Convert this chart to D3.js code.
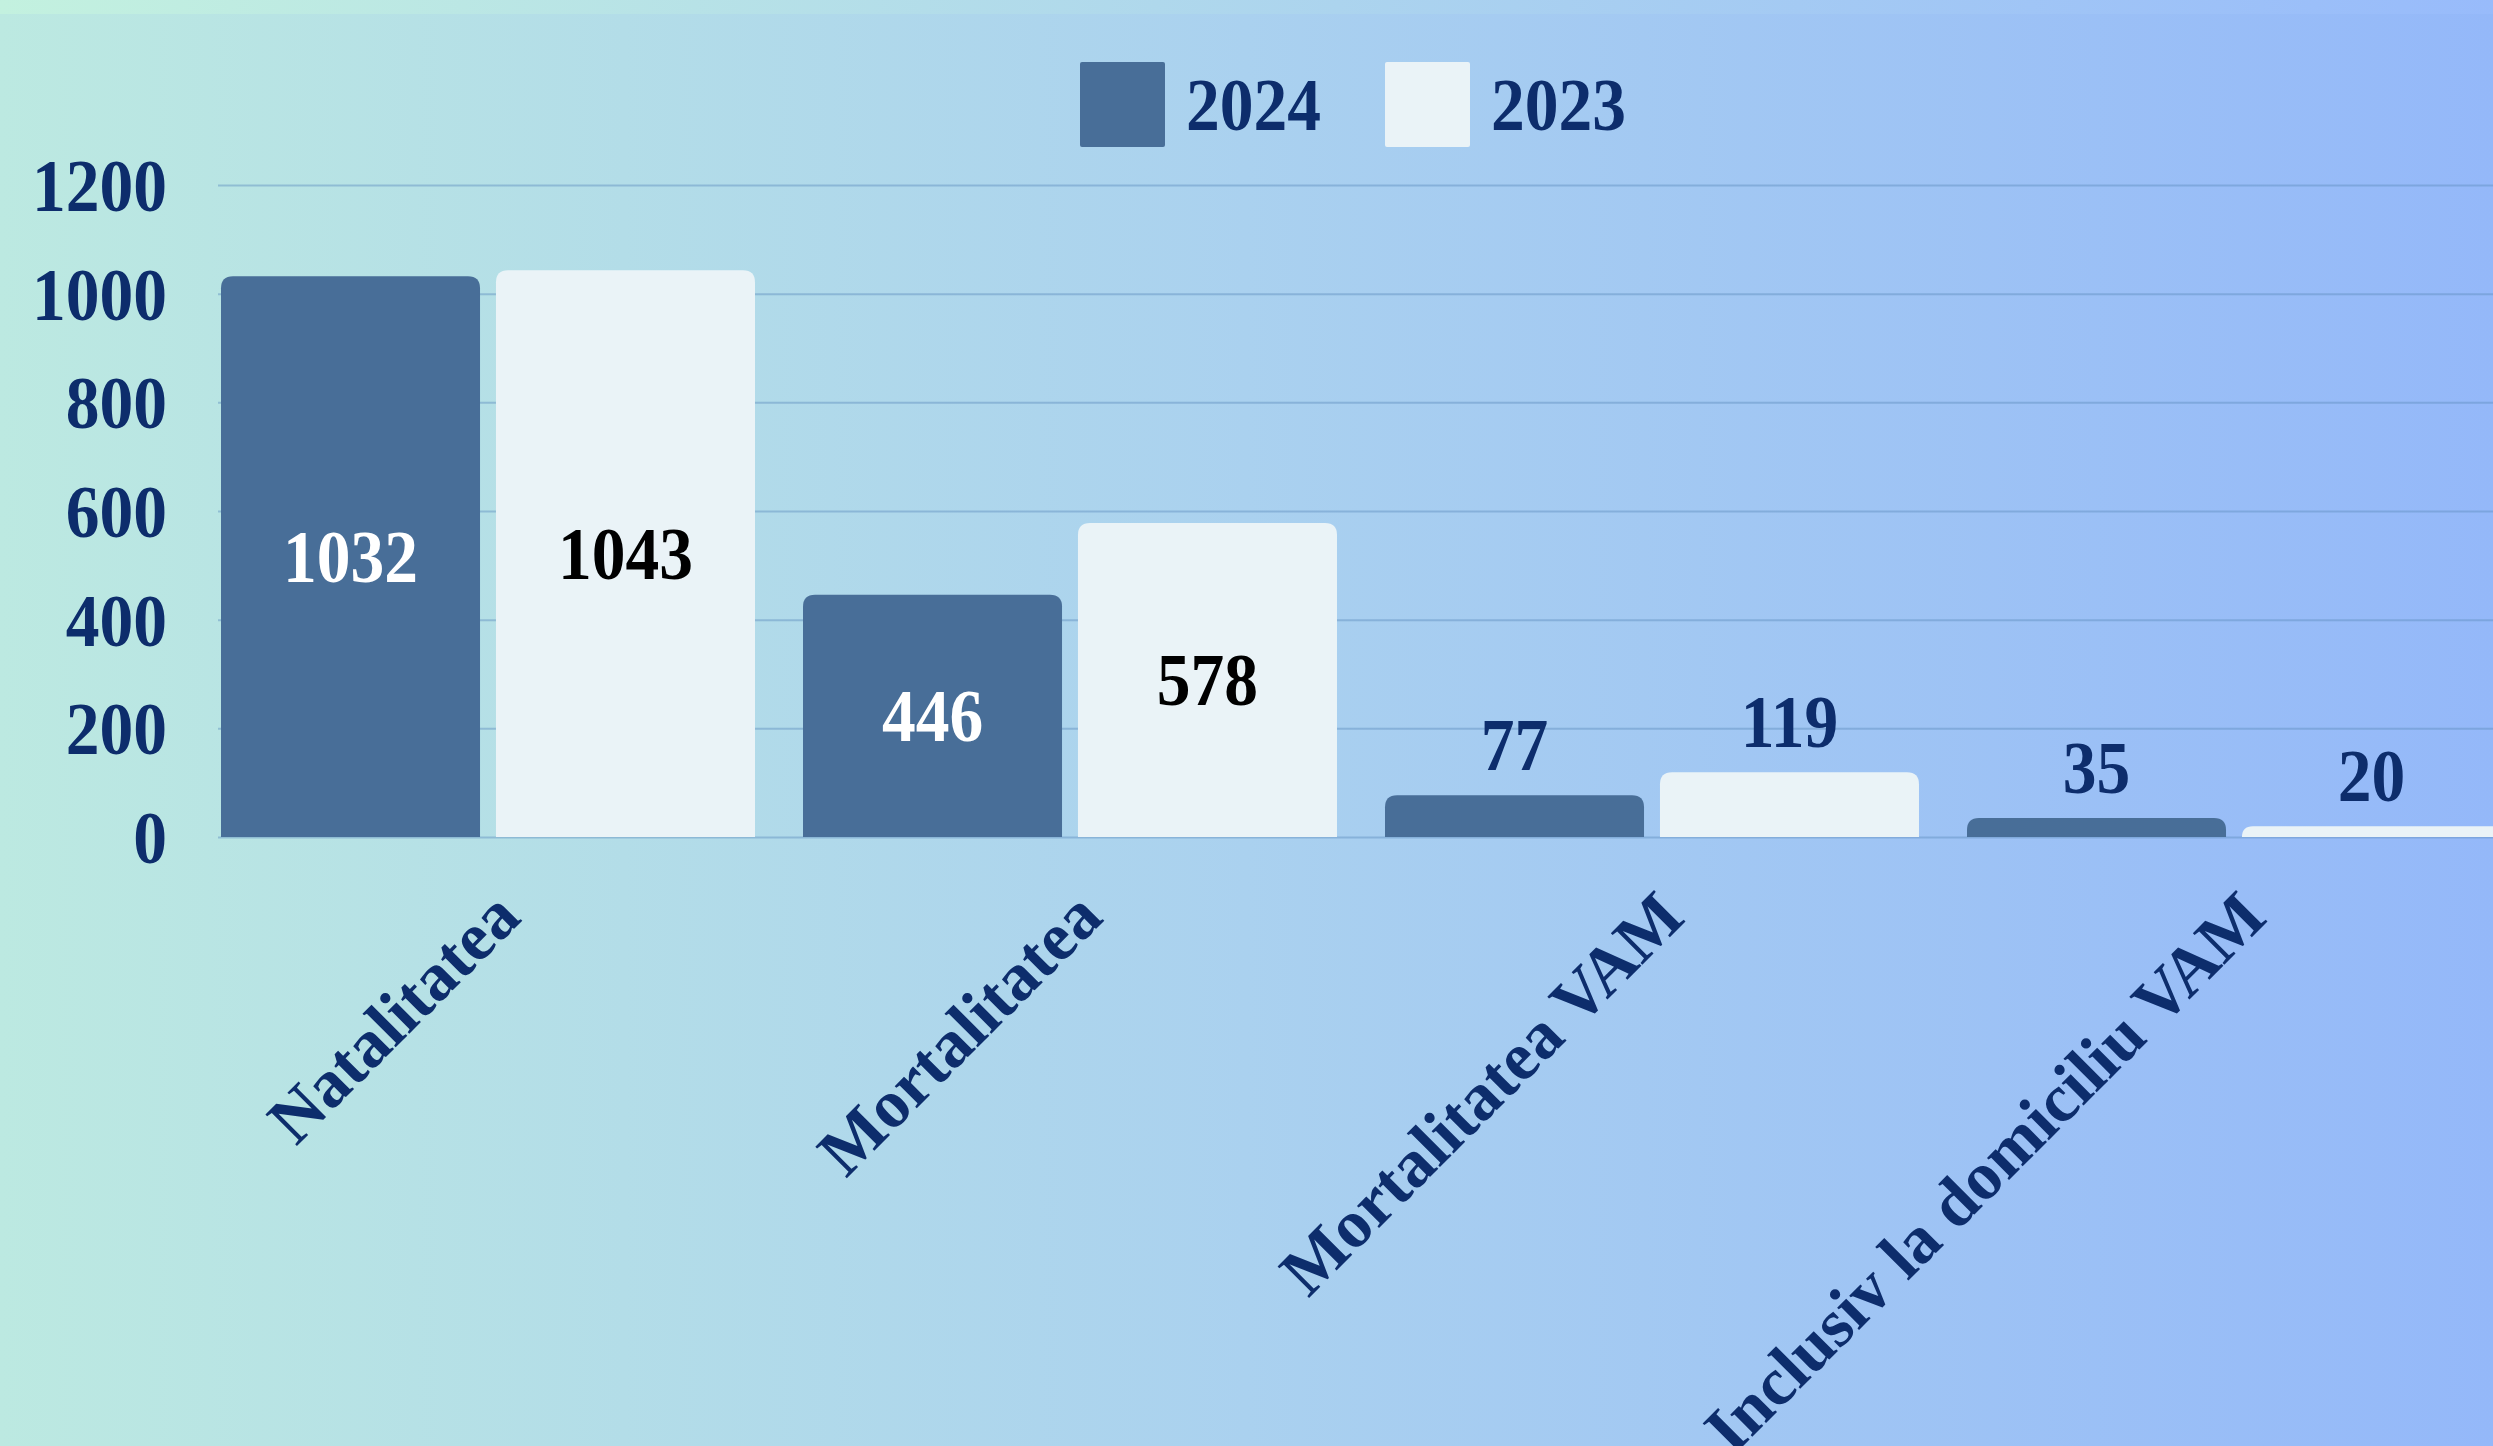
<!DOCTYPE html>
<html>
<head>
<meta charset="utf-8">
<script src="https://cdn.jsdelivr.net/npm/d3@7"></script>
<style>
	body { margin: 0; overflow: hidden; }
	text { font-family: "Liberation Serif", "Times New Roman", serif; font-weight: bold; }
</style>
</head>
<body>
<div id="chart"></div>
<script>

// data
var categories = ["Natalitatea", "Mortalitatea", "Mortalitatea VAM", "Inclusiv la domiciliu VAM"];
var years = ["2024", "2023"];
var values2024 = [1032, 446, 77, 35];
var values2023 = [1043, 578, 119, 20];
var yTicks = [0, 200, 400, 600, 800, 1000, 1200];

var chart = {
	container: '#chart',
	width: 2493,
	height: 1446,
	baseline: 837,
	top: 185,
	gridLeft: 218,
	navy: '#0d2d6c',
	colors: { '2024': '#486e98', '2023': '#eaf3f7' }
};

var rows = [];
categories.forEach(function (c, i) {
	rows.push({ cat: c, year: '2024', value: values2024[i] });
	rows.push({ cat: c, year: '2023', value: values2023[i] });
});

var svg = d3.select(chart.container)
	.append('svg')
	.attr('width', chart.width)
	.attr('height', chart.height);

// background gradient
var defs = svg.append('defs');
var bg = defs.append('linearGradient').attr('id', 'bg').attr('x1', 0).attr('x2', 1).attr('y1', 0).attr('y2', 0);
bg.append('stop').attr('offset', '0%').attr('stop-color', '#bce9e1');
bg.append('stop').attr('offset', '50%').attr('stop-color', '#aad1ef');
bg.append('stop').attr('offset', '100%').attr('stop-color', '#94b8f9');
var strip = defs.append('linearGradient').attr('id', 'strip').attr('x1', 0).attr('x2', 1).attr('y1', 0).attr('y2', 0);
strip.append('stop').attr('offset', '0%').attr('stop-color', '#c3f1df');
strip.append('stop').attr('offset', '100%').attr('stop-color', '#98bbfb');

svg.append('rect')
	.attr('width', chart.width)
	.attr('height', chart.height)
	.attr('fill', 'url(#bg)');

svg.append('rect')
	.attr('width', chart.width)
	.attr('height', 14)
	.attr('fill', 'url(#strip)');

// scales
var y = d3.scaleLinear()
	.domain([0, 1200])
	.range([chart.baseline, chart.top]);

var x0 = d3.scaleBand()
	.domain(categories)
	.range([197, 2525])
	.paddingInner(0.0825)
	.paddingOuter(0.04125);

var x1 = d3.scaleBand()
	.domain(years)
	.range([0, x0.bandwidth()])
	.paddingInner(0.058);

// y axis + grid
var yAxis = d3.axisLeft(y)
	.tickValues(yTicks)
	.tickFormat(d3.format('d'))
	.tickSize(-(chart.width - chart.gridLeft + 50));

var gy = svg.append('g')
	.attr('transform', 'translate(' + chart.gridLeft + ',0)')
	.call(yAxis);

gy.select('.domain').remove();
gy.selectAll('.tick line')
	.attr('stroke', '#5f8fbf')
	.attr('stroke-opacity', 0.45)
	.attr('stroke-width', 2);
gy.selectAll('.tick text')
	.attr('x', 0)
	.attr('dy', '0.34em')
	.attr('transform', 'translate(-51,0) scale(0.9,1)')
	.attr('fill', chart.navy)
	.style('font-size', '75px');

// x axis labels
var gx = svg.append('g')
	.attr('transform', 'translate(0,' + chart.baseline + ')')
	.call(d3.axisBottom(x0).tickSize(0));

gx.select('.domain').remove();
gx.selectAll('.tick text')
	.attr('y', 0)
	.attr('dy', 0)
	.attr('text-anchor', 'end')
	.attr('transform', 'translate(35,83) rotate(-45)')
	.attr('fill', chart.navy)
	.style('font-size', '68px');

// bars, top corners rounded
function topRounded(x, yTop, w, h, r) {
	r = Math.min(r, h, w / 2);
	return 'M' + x + ',' + (yTop + h) +
		'V' + (yTop + r) +
		'Q' + x + ',' + yTop + ' ' + (x + r) + ',' + yTop +
		'H' + (x + w - r) +
		'Q' + (x + w) + ',' + yTop + ' ' + (x + w) + ',' + (yTop + r) +
		'V' + (yTop + h) + 'Z';
}

svg.append('g').selectAll('path')
	.data(rows)
	.enter().append('path')
	.attr('fill', function (d) { return chart.colors[d.year]; })
	.attr('d', function (d) {
		var bx = x0(d.cat) + x1(d.year);
		return topRounded(bx, y(d.value), x1.bandwidth(), chart.baseline - y(d.value), 12);
	});

// value labels
svg.append('g').selectAll('g')
	.data(rows)
	.enter().append('g')
	.attr('transform', function (d) {
		var cx = x0(d.cat) + x1(d.year) + x1.bandwidth() / 2;
		var cy = d.value > 300 ? (y(d.value) + chart.baseline) / 2 + 25 : y(d.value) - 25;
		return 'translate(' + cx + ',' + cy + ')';
	})
	.append('text')
	.attr('text-anchor', 'middle')
	.attr('transform', 'scale(0.9,1)')
	.style('font-size', '75px')
	.attr('fill', function (d) {
		if (d.value <= 300) return chart.navy;
		return d.year === '2024' ? '#ffffff' : '#000000';
	})
	.text(function (d) { return d.value; });

// legend
var legendX = [1080, 1385];
var legend = svg.append('g').selectAll('g')
	.data(years)
	.enter().append('g')
	.attr('transform', function (d, i) { return 'translate(' + legendX[i] + ',62)'; });

legend.append('rect')
	.attr('width', 85)
	.attr('height', 85)
	.attr('rx', 2)
	.attr('fill', function (d) { return chart.colors[d]; });

legend.append('text')
	.attr('transform', 'translate(106,68) scale(0.9,1)')
	.attr('fill', chart.navy)
	.style('font-size', '75px')
	.text(function (d) { return d; });

</script>
</body>
</html>
